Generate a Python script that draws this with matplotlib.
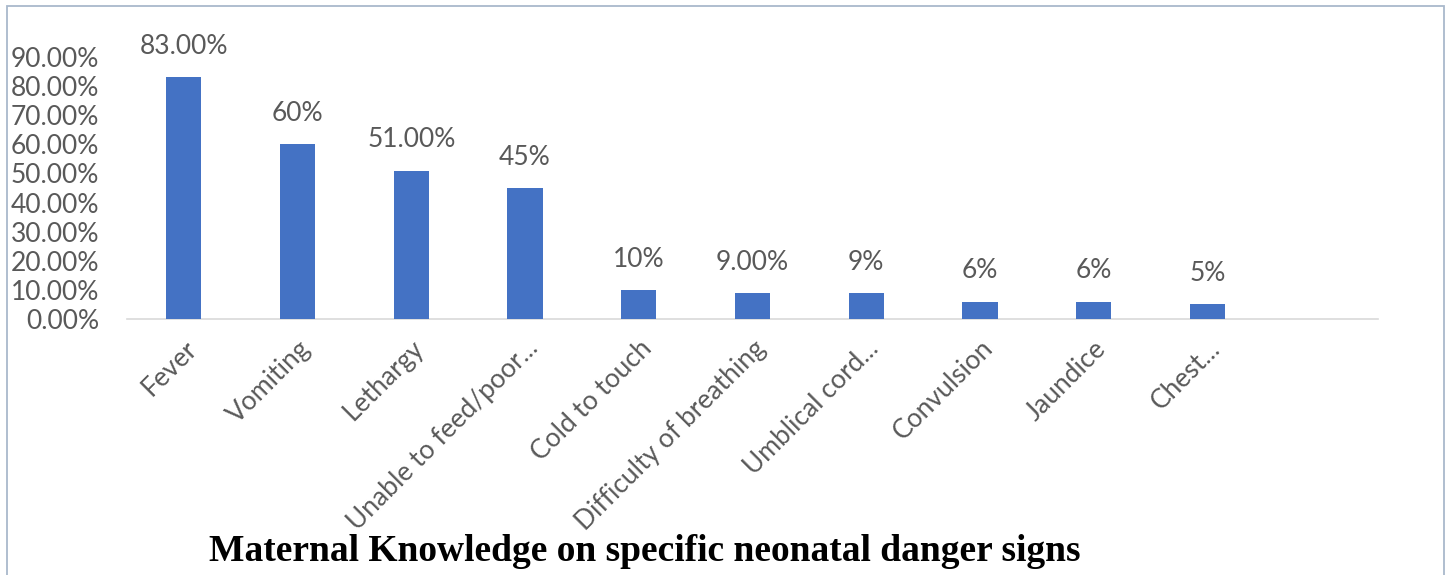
import numpy as np
import matplotlib.pyplot as plt
from matplotlib.patches import Rectangle

categories = ["Fever", "Vomiting", "Lethargy", "Unable to feed/poor...", "Cold to touch",
              "Difficulty of breathing", "Umblical cord...", "Convulsion", "Jaundice", "Chest..."]
values = [0.83, 0.60, 0.51, 0.45, 0.10, 0.09, 0.09, 0.06, 0.06, 0.05]
value_labels = ["83.00%", "60%", "51.00%", "45%", "10%", "9.00%", "9%", "6%", "6%", "5%"]
yticks = [0.0, 0.1, 0.2, 0.3, 0.4, 0.5, 0.6, 0.7, 0.8, 0.9]

grey = "#595959"
plt.rcParams['font.family'] = ['Lato', 'DejaVu Sans']

fig = plt.figure(figsize=(14.51, 5.75), dpi=100)
ax = fig.add_axes([0.0875, 0.4452, 0.8622, 0.4557])

x = np.arange(len(categories))
ax.bar(x, values, width=0.31, color="#4472C4", zorder=3)
for xi, v, lab in zip(x, values, value_labels):
    ax.annotate(lab, (xi, v), xytext=(0, 22), textcoords="offset points",
                ha="center", va="center", fontsize=19, color=grey, annotation_clip=False)

ax.set_xlim(-0.5, len(categories) + 0.5)
ax.set_ylim(0, 0.9)
ax.set_yticks(yticks)
ax.set_yticklabels(["%.2f%%" % (t * 100) for t in yticks], fontsize=19, color=grey)
ax.set_xticks(x)
ax.set_xticklabels(categories, rotation=45, ha="right", rotation_mode="anchor",
                   fontsize=19, color=grey)
ax.tick_params(axis="both", length=0)
ax.tick_params(axis="y", pad=20)
ax.tick_params(axis="x", pad=12)
for s in ["top", "right", "left"]:
    ax.spines[s].set_visible(False)
ax.spines["bottom"].set_color("#d9d9d9")
ax.spines["bottom"].set_linewidth(1.2)

fig.text(0.4445, 0.025, "Maternal Knowledge on specific neonatal danger signs",
         ha="center", va="baseline", fontsize=27, fontweight="bold",
         family="Liberation Serif", color="black")

fig.patches.append(Rectangle((0.005, -0.01), 0.99, 1.0, transform=fig.transFigure,
                             fill=False, edgecolor="#a9b9cc", linewidth=1.3))

fig.savefig("out.png", dpi=100)
